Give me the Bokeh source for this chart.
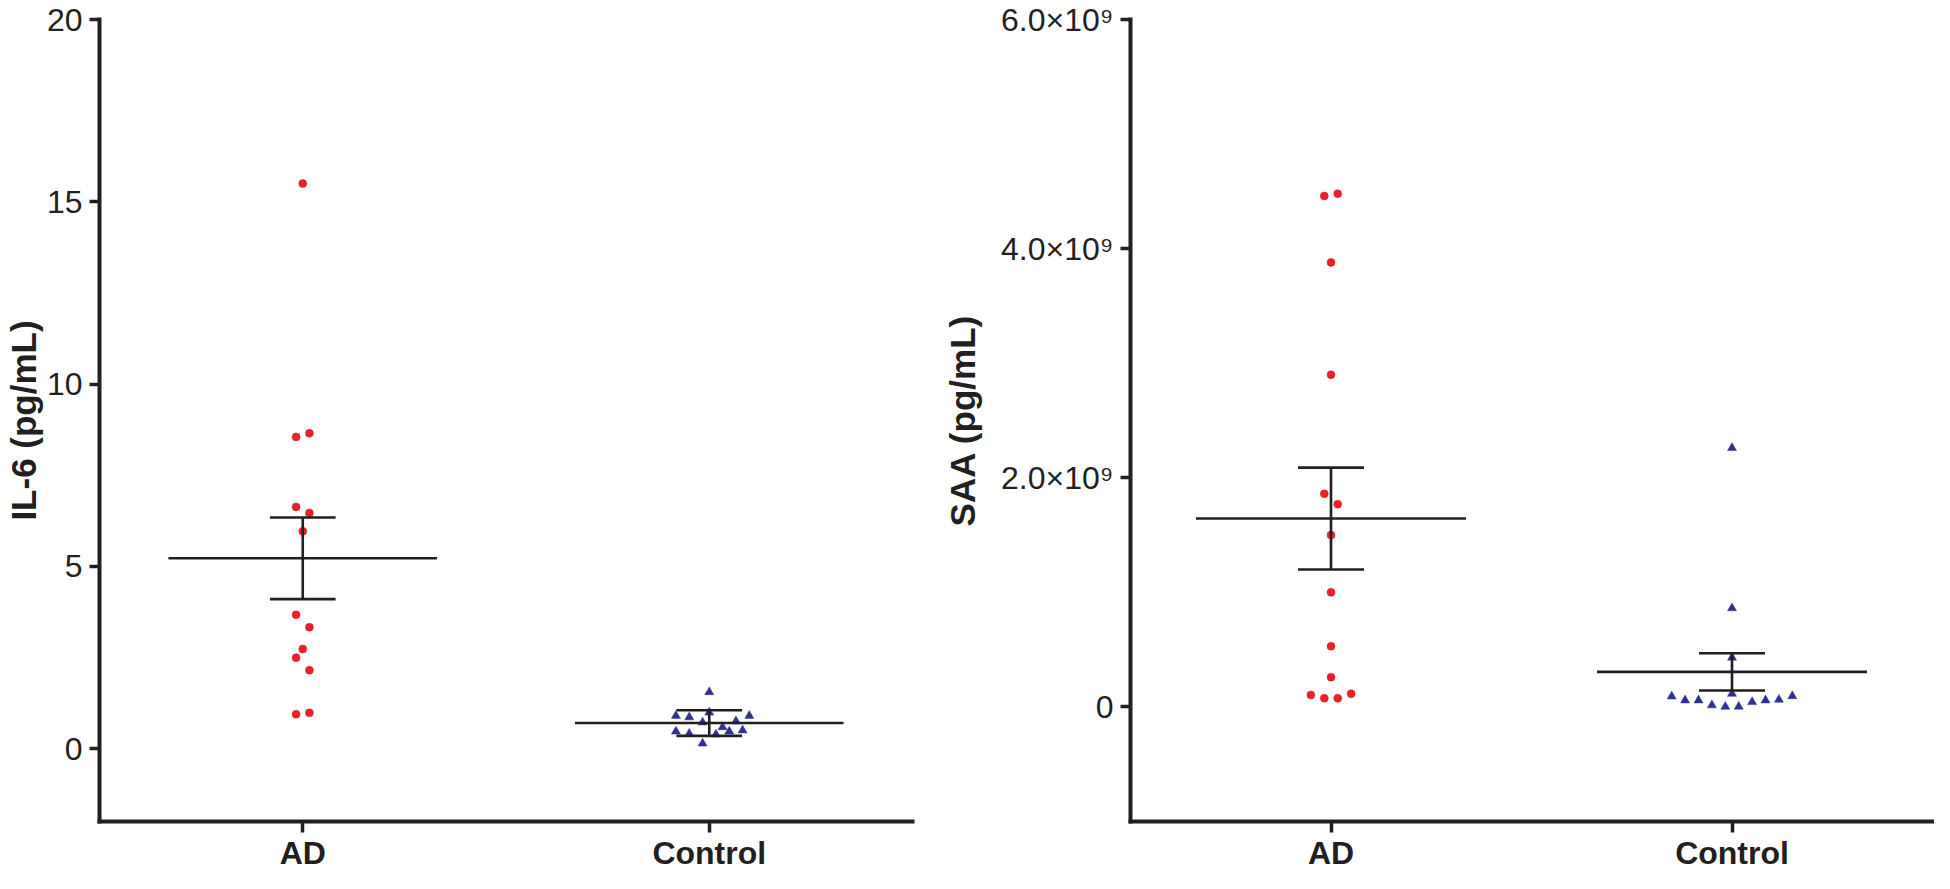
from bokeh.plotting import figure
from bokeh.layouts import row
from bokeh.models import Range1d, FixedTicker, ColumnDataSource
from bokeh.embed import file_html
from bokeh.resources import INLINE

# ---------------- data ----------------
groups = ["AD", "Control"]

# IL-6 (pg/mL)
il6_ad = [15.5, 8.65, 8.55, 6.63, 6.46, 5.96, 3.67, 3.33, 2.73, 2.49, 2.15, 0.98, 0.94]
il6_ad_cols = [0, 1, -1, -1, 1, 0, -1, 1, 0, -1, 1, 1, -1]
il6_ctrl = [1.55, 0.99, 0.90, 0.86, 0.90, 0.75, 0.72, 0.59, 0.50, 0.47, 0.47, 0.41, 0.39, 0.14]
il6_ctrl_cols = [0, 0, -5, -3, 6, 4, -1, 2, 5, -5, 3, -3, 1, -1]
il6_mean = [5.22, 0.70]
il6_sem = [1.12, 0.35]
il6_ticks = [0, 5, 10, 15, 20]
il6_tick_labels = ["0", "5", "10", "15", "20"]

# SAA (pg/mL)
saa_ad = [4.46e9, 4.48e9, 3.88e9, 2.90e9, 1.86e9, 1.77e9, 1.50e9, 1.00e9, 0.53e9,
          0.26e9, 0.105e9, 0.076e9, 0.076e9, 0.115e9]
saa_ad_cols = [-1, 1, 0, 0, -1, 1, 0, 0, 0, 0, -3, -1, 1, 3]
saa_ctrl = [2.26e9, 0.862e9, 0.431e9, 0.115e9, 0.092e9, 0.058e9, 0.058e9, 0.015e9,
            0.002e9, 0.003e9, 0.043e9, 0.058e9, 0.064e9, 0.095e9]
saa_ctrl_cols = [0, 0, 0, 0, -9, -7, -5, -3, -1, 1, 3, 5, 7, 9]
saa_mean = [1.644e9, 0.306e9]
saa_sem = [0.445e9, 0.163e9]
saa_ticks = [0, 2e9, 4e9, 6e9]
saa_tick_labels = ["0", "2.0\u00d710\u2079", "4.0\u00d710\u2079", "6.0\u00d710\u2079"]

# ---------------- style ----------------
INK = "#231f20"
RED = "#e8212b"
BLUE = "#2e3192"
FONT = "Liberation Sans"
H = 873
TOP = 19
BOTTOM = 50
SLOT_PX = 6.7
MEAN_HALF_PX = 135
CAP_HALF_PX = 33


def panel(ylabel, yr, ticks, tick_labels, ad, ad_cols, ctrl, ctrl_cols, mean, sem,
          width, bl, br, label_standoff):
    p = figure(width=width, height=H, output_backend="svg", toolbar_location=None,
               x_range=Range1d(0.5, 2.5), y_range=Range1d(*yr),
               min_border_left=bl, min_border_right=br,
               min_border_top=TOP, min_border_bottom=BOTTOM)
    p.outline_line_color = None
    p.xgrid.grid_line_color = None
    p.ygrid.grid_line_color = None
    p.background_fill_color = "white"
    p.border_fill_color = "white"

    frame_w = width - bl - br
    upp = 2.0 / frame_w  # data units per pixel on x
    slot = SLOT_PX * upp

    # points
    ad_src = ColumnDataSource(dict(x=[1 + c * slot for c in ad_cols], y=ad))
    ct_src = ColumnDataSource(dict(x=[2 + c * slot for c in ctrl_cols], y=ctrl))
    p.scatter("x", "y", source=ad_src, marker="circle", size=8,
              fill_color=RED, line_color=RED, line_width=0.5)
    p.scatter("x", "y", source=ct_src, marker="triangle", size=9,
              fill_color=BLUE, line_color=BLUE, line_width=0.5)

    # mean +/- SEM
    xs = [1, 2]
    mh = MEAN_HALF_PX * upp
    ch = CAP_HALF_PX * upp
    p.segment(x0=[x - mh for x in xs], x1=[x + mh for x in xs], y0=mean, y1=mean,
              line_color=INK, line_width=2.6)
    p.segment(x0=xs, x1=xs, y0=[m - s for m, s in zip(mean, sem)],
              y1=[m + s for m, s in zip(mean, sem)], line_color=INK, line_width=2.6)
    for sgn in (1, -1):
        yy = [m + sgn * s for m, s in zip(mean, sem)]
        p.segment(x0=[x - ch for x in xs], x1=[x + ch for x in xs], y0=yy, y1=yy,
                  line_color=INK, line_width=2.6)

    # axes
    for ax in (p.xaxis[0], p.yaxis[0]):
        ax.axis_line_width = 4
        ax.axis_line_color = INK
        ax.axis_line_cap = "square"
        ax.major_tick_line_width = 3.5
        ax.major_tick_line_color = INK
        ax.major_tick_in = 0
        ax.minor_tick_line_color = None
        ax.major_label_text_font = FONT
        ax.major_label_text_color = INK
        ax.axis_label_text_font = FONT
        ax.axis_label_text_color = INK

    xa = p.xaxis[0]
    xa.ticker = FixedTicker(ticks=[1, 2])
    xa.major_label_overrides = {1: groups[0], 2: groups[1]}
    xa.major_label_text_font_size = "32px"
    xa.major_label_text_font_style = "bold"
    xa.major_tick_out = 11
    xa.major_label_standoff = 2

    ya = p.yaxis[0]
    ya.ticker = FixedTicker(ticks=ticks)
    ya.major_label_overrides = {t: l for t, l in zip(ticks, tick_labels)}
    ya.major_label_text_font_size = "32px"
    ya.major_tick_out = 10
    ya.major_label_standoff = 7
    ya.axis_label = ylabel
    ya.axis_label_text_font_size = "35px"
    ya.axis_label_text_font_style = "bold"
    ya.axis_label_standoff = label_standoff
    return p


p1 = panel("IL-6 (pg/mL)", (-2, 20), il6_ticks, il6_tick_labels,
           il6_ad, il6_ad_cols, il6_ctrl, il6_ctrl_cols, il6_mean, il6_sem,
           width=940, bl=95, br=28, label_standoff=1)
p2 = panel("SAA (pg/mL)", (-1e9, 6e9), saa_ticks, saa_tick_labels,
           saa_ad, saa_ad_cols, saa_ctrl, saa_ctrl_cols, saa_mean, saa_sem,
           width=994, bl=190, br=2, label_standoff=16)

layout = row(p1, p2)
open("out.html", "w").write(file_html(layout, INLINE))
